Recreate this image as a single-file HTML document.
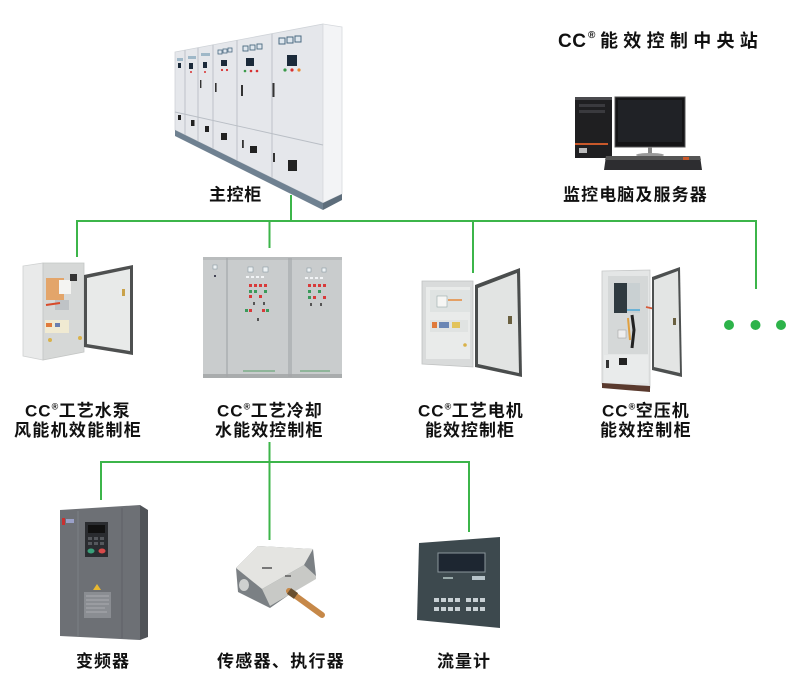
<!DOCTYPE html>
<html><head><meta charset="utf-8"><style>
html,body{margin:0;padding:0;background:#fff;}
svg{display:block;}
text{font-family:"Liberation Sans","Noto Sans CJK SC","WenQuanYi Zen Hei",sans-serif;font-weight:bold;fill:#111;}
</style></head><body>
<svg width="800" height="700" viewBox="0 0 800 700" xmlns="http://www.w3.org/2000/svg">
<rect width="800" height="700" fill="#fff"/>

<!-- ============ MAIN CABINET ============ -->
<g>
  <polygon points="175,52 323,24 323,203 175,130" fill="#e5e7eb" stroke="#cfd3d8" stroke-width="0.8"/>
  <polygon points="323,24 342,27 342,194 323,203" fill="#f3f4f6" stroke="#d6d9dd" stroke-width="0.8"/>
  <polygon points="175,130 323,203 323,210 175,136" fill="#6f8191"/>
  <polygon points="323,203 342,194 342,200 323,210" fill="#5d6d7b"/>
  <g stroke="#b9bec5" stroke-width="0.9">
    <line x1="185" y1="50.1" x2="185" y2="134.9"/>
    <line x1="198" y1="47.7" x2="198" y2="141.3"/>
    <line x1="213" y1="44.8" x2="213" y2="148.7"/>
    <line x1="237" y1="40.3" x2="237" y2="160.6"/>
    <line x1="272" y1="33.7" x2="272" y2="177.8"/>
    <line x1="175" y1="112" x2="323" y2="145"/>
  </g>
  <!-- panel 272-323 -->
  <rect x="279" y="38" width="6" height="6" fill="#dfe7ee" stroke="#4a6a80" stroke-width="1"/>
  <rect x="287" y="37" width="6" height="6" fill="#dfe7ee" stroke="#4a6a80" stroke-width="1"/>
  <rect x="295" y="36" width="6" height="6" fill="#dfe7ee" stroke="#4a6a80" stroke-width="1"/>
  <rect x="287" y="55" width="10" height="11" fill="#1b2a3a"/>
  <circle cx="285" cy="70" r="1.6" fill="#3a9a4a"/><circle cx="292" cy="70" r="1.6" fill="#d83030"/><circle cx="299" cy="70" r="1.6" fill="#e88a30"/>
  <rect x="272.5" y="83" width="2" height="14" fill="#333"/>
  <rect x="288" y="160" width="9" height="11" fill="#222"/>
  <rect x="273" y="153" width="2" height="9" fill="#333"/>
  <!-- panel 237-272 -->
  <rect x="243" y="46" width="5" height="5" fill="#dfe7ee" stroke="#4a6a80" stroke-width="0.9"/>
  <rect x="250" y="45" width="5" height="5" fill="#dfe7ee" stroke="#4a6a80" stroke-width="0.9"/>
  <rect x="257" y="44" width="5" height="5" fill="#dfe7ee" stroke="#4a6a80" stroke-width="0.9"/>
  <rect x="246" y="58" width="8" height="8" fill="#1b2a3a"/>
  <circle cx="245" cy="71" r="1.3" fill="#3a9a4a"/><circle cx="251" cy="71" r="1.3" fill="#d83030"/><circle cx="257" cy="71" r="1.3" fill="#d83030"/>
  <rect x="241" y="85" width="2" height="11" fill="#333"/>
  <rect x="250" y="146" width="7" height="7" fill="#222"/>
  <rect x="242" y="140" width="1.8" height="8" fill="#333"/>
  <!-- panel 213-237 -->
  <rect x="218" y="50" width="4" height="4" fill="#dfe7ee" stroke="#4a6a80" stroke-width="0.8"/>
  <rect x="223" y="49" width="4" height="4" fill="#dfe7ee" stroke="#4a6a80" stroke-width="0.8"/>
  <rect x="228" y="48" width="4" height="4" fill="#dfe7ee" stroke="#4a6a80" stroke-width="0.8"/>
  <rect x="221" y="60" width="6" height="6" fill="#1b2a3a"/>
  <circle cx="222" cy="70" r="1.1" fill="#d83030"/><circle cx="227" cy="70" r="1.1" fill="#d83030"/>
  <rect x="215" y="83" width="1.6" height="9" fill="#333"/>
  <rect x="221" y="133" width="6" height="7" fill="#222"/>
  <!-- panel 198-213 -->
  <rect x="201" y="53" width="9" height="3" fill="#9fb8c8"/>
  <rect x="203" y="62" width="4" height="6" fill="#1b2a3a"/>
  <circle cx="205" cy="72" r="1" fill="#d83030"/>
  <rect x="200" y="80" width="1.4" height="8" fill="#333"/>
  <rect x="205" y="126" width="4" height="6" fill="#222"/>
  <!-- panel 185-198 -->
  <rect x="188" y="56" width="8" height="3" fill="#9fb8c8"/>
  <rect x="189" y="63" width="4" height="6" fill="#1b2a3a"/>
  <circle cx="191" cy="72" r="1" fill="#d83030"/>
  <rect x="191" y="120" width="3.5" height="6" fill="#222"/>
  <!-- panel 175-185 -->
  <rect x="177" y="58" width="6" height="3" fill="#9fb8c8"/>
  <rect x="178" y="63" width="3" height="5" fill="#1b2a3a"/>
  <rect x="178" y="115" width="3" height="5" fill="#222"/>
</g>

<!-- ============ COMPUTER ============ -->
<g>
  <rect x="575" y="97" width="37" height="61" fill="#1f1f21"/>
  <rect x="575" y="97" width="37" height="3" fill="#4a4a4e"/>
  <rect x="579" y="104" width="26" height="3" fill="#3a3a3e"/>
  <rect x="579" y="110" width="26" height="3" fill="#3a3a3e"/>
  <rect x="575" y="143" width="33" height="2" fill="#c8582a"/>
  <rect x="579" y="148" width="8" height="5" fill="#bbb"/>
  <rect x="615" y="97" width="70" height="50" fill="#141416" stroke="#555" stroke-width="1"/>
  <rect x="618" y="100" width="64" height="42" fill="#202226"/>
  <rect x="648" y="147" width="4" height="7" fill="#888"/>
  <ellipse cx="650" cy="155" rx="14" ry="2" fill="#999"/>
  <polygon points="606,156 700,156 702,170 604,170" fill="#2d2d30"/>
  <polygon points="606,156 700,156 701,160 605,160" fill="#555"/>
  <rect x="683" y="157" width="6" height="3" fill="#c8582a"/>
</g>

<!-- ============ CONNECTORS ============ -->
<g stroke="#3cb54a" stroke-width="2" fill="none">
  <line x1="291" y1="195" x2="291" y2="221"/>
  <line x1="76" y1="221" x2="757" y2="221"/>
  <line x1="77" y1="220" x2="77" y2="257"/>
  <line x1="269.5" y1="221" x2="269.5" y2="248"/>
  <line x1="473" y1="221" x2="473" y2="273"/>
  <line x1="756" y1="220" x2="756" y2="289"/>
  <line x1="269.5" y1="442" x2="269.5" y2="540"/>
  <line x1="100" y1="462" x2="470" y2="462"/>
  <line x1="101" y1="461" x2="101" y2="500"/>
  <line x1="469" y1="461" x2="469" y2="532"/>
</g>
<circle cx="729" cy="325" r="5" fill="#2db34a"/>
<circle cx="755.5" cy="325" r="5" fill="#2db34a"/>
<circle cx="781" cy="325" r="5" fill="#2db34a"/>

<!-- ============ WATER PUMP CABINET ============ -->
<g>
  <polygon points="23,266 43,263 43,360 23,356" fill="#e9eaea" stroke="#cfd1d1" stroke-width="0.8"/>
  <polygon points="43,263 84,263 84,352 43,360" fill="#d6d8d7" stroke="#c4c6c5" stroke-width="0.8"/>
  <rect x="46" y="278" width="18" height="22" fill="#e3a56a"/>
  <rect x="59" y="280" width="12" height="14" fill="#f4f4f2"/>
  <rect x="70" y="274" width="7" height="7" fill="#333"/>
  <rect x="55" y="300" width="14" height="10" fill="#bfc3c6"/>
  <line x1="46" y1="305" x2="60" y2="303" stroke="#d84a2a" stroke-width="2"/>
  <rect x="45" y="320" width="24" height="13" fill="#f0ead2"/>
  <rect x="46" y="323" width="6" height="4" fill="#e07a3a"/>
  <rect x="55" y="323" width="5" height="4" fill="#6a7fb0"/>
  <circle cx="50" cy="340" r="2" fill="#d9b24a"/>
  <circle cx="80" cy="338" r="2" fill="#d9b24a"/>
  <polygon points="84,275 133,265 133,355 84,347" fill="#4e5050"/>
  <polygon points="87,278 130,269 130,351 87,344" fill="#e8eae9"/>
  <rect x="122" y="289" width="3" height="7" fill="#c9a24a"/>
</g>

<!-- ============ COOLING CABINET ============ -->
<g>
  <rect x="203" y="257" width="139" height="121" fill="#c9cccd"/>
  <rect x="203" y="257" width="139" height="3" fill="#b9bcbd"/>
  <rect x="203" y="374" width="139" height="4" fill="#a9acad"/>
  <g stroke="#a3a7a9" stroke-width="1.2">
    <line x1="227" y1="258" x2="227" y2="377"/>
    <line x1="289" y1="258" x2="289" y2="377"/>
    <line x1="291" y1="258" x2="291" y2="377"/>
  </g>
  <rect x="213" y="265" width="4" height="4" fill="#eef2f4" stroke="#8a9aa4" stroke-width="0.6"/>
  <rect x="214" y="275" width="2" height="2" fill="#445"/>
  <rect x="248" y="267" width="5" height="5" fill="#eef2f4" stroke="#8a9aa4" stroke-width="0.6"/>
  <rect x="263" y="267" width="5" height="5" fill="#eef2f4" stroke="#8a9aa4" stroke-width="0.6"/>
  <rect x="307" y="268" width="4" height="4" fill="#eef2f4" stroke="#8a9aa4" stroke-width="0.6"/>
  <rect x="322" y="268" width="4" height="4" fill="#eef2f4" stroke="#8a9aa4" stroke-width="0.6"/>
  <g fill="#f2f4f6"><rect x="246" y="276" width="3" height="2"/><rect x="251" y="276" width="3" height="2"/><rect x="256" y="276" width="3" height="2"/><rect x="261" y="276" width="3" height="2"/><rect x="305" y="277" width="3" height="2"/><rect x="310" y="277" width="3" height="2"/><rect x="315" y="277" width="3" height="2"/><rect x="320" y="277" width="3" height="2"/></g>
  <g fill="#d83a3a">
    <rect x="249" y="284" width="3" height="3"/><rect x="254" y="284" width="3" height="3"/><rect x="259" y="284" width="3" height="3"/><rect x="264" y="284" width="3" height="3"/>
    <rect x="249" y="295" width="3" height="3"/><rect x="259" y="295" width="3" height="3"/>
    <rect x="249" y="309" width="3" height="3"/><rect x="262" y="309" width="3" height="3"/>
    <rect x="308" y="284" width="3" height="3"/><rect x="313" y="284" width="3" height="3"/><rect x="318" y="284" width="3" height="3"/><rect x="323" y="284" width="3" height="3"/>
    <rect x="313" y="296" width="3" height="3"/><rect x="323" y="296" width="3" height="3"/>
  </g>
  <g fill="#3a9a5a">
    <rect x="249" y="290" width="3" height="3"/><rect x="254" y="290" width="3" height="3"/><rect x="264" y="290" width="3" height="3"/>
    <rect x="245" y="309" width="3" height="3"/><rect x="266" y="309" width="3" height="3"/>
    <rect x="308" y="290" width="3" height="3"/><rect x="318" y="290" width="3" height="3"/><rect x="308" y="296" width="3" height="3"/>
  </g>
  <g fill="#555"><rect x="253" y="302" width="2" height="3"/><rect x="263" y="302" width="2" height="3"/><rect x="257" y="318" width="2" height="3"/><rect x="310" y="303" width="2" height="3"/><rect x="320" y="303" width="2" height="3"/></g>
  <rect x="243" y="370" width="32" height="2" fill="#8fb59a"/>
  <rect x="300" y="370" width="30" height="2" fill="#8fb59a"/>
</g>

<!-- ============ MOTOR CABINET ============ -->
<g>
  <polygon points="422,281 473,281 473,367 422,364" fill="#d9dbdb" stroke="#bfc1c1" stroke-width="0.8"/>
  <rect x="426" y="287" width="44" height="72" fill="#e9ebea"/>
  <rect x="430" y="290" width="40" height="22" fill="#dfe3e2"/>
  <rect x="437" y="296" width="10" height="11" fill="#f6f6f4" stroke="#9aa" stroke-width="0.6"/>
  <line x1="448" y1="300" x2="462" y2="300" stroke="#e58a3a" stroke-width="1.5"/>
  <rect x="430" y="320" width="38" height="12" fill="#e0e3e2"/>
  <rect x="432" y="322" width="5" height="6" fill="#e07a3a"/>
  <rect x="439" y="322" width="10" height="6" fill="#6a86b4"/>
  <rect x="452" y="322" width="8" height="6" fill="#e2c35a"/>
  <circle cx="465" cy="345" r="1.8" fill="#d9b24a"/>
  <polygon points="475,285 520,268 522,377 475,367" fill="#4a4d4d"/>
  <polygon points="478,288 517,273 519,373 478,364" fill="#e2e4e3"/>
  <rect x="508" y="316" width="4" height="8" fill="#6a6040"/>
</g>

<!-- ============ AIR COMPRESSOR CABINET ============ -->
<g>
  <polygon points="602,271 650,270 650,388 602,384" fill="#e4e6e6" stroke="#c6c8c8" stroke-width="0.8"/>
  <rect x="608" y="276" width="40" height="78" fill="#d5d8d8"/>
  <rect x="614" y="283" width="13" height="30" fill="#2f3a40"/>
  <rect x="627" y="283" width="13" height="30" fill="#c9d0d2"/>
  <line x1="627" y1="310" x2="640" y2="310" stroke="#4aa8d8" stroke-width="1.5"/>
  <polyline points="632,315 634,330 632,348" stroke="#222" stroke-width="3" fill="none"/>
  <polyline points="628,318 630,340" stroke="#e0a040" stroke-width="2" fill="none"/>
  <rect x="618" y="330" width="8" height="8" fill="#eee" stroke="#999" stroke-width="0.5"/>
  <line x1="646" y1="307" x2="668" y2="312" stroke="#d65a3a" stroke-width="1.8"/>
  <rect x="604" y="355" width="44" height="28" fill="#e9ebeb"/>
  <rect x="606" y="360" width="3" height="8" fill="#333"/>
  <rect x="619" y="358" width="8" height="7" fill="#222"/>
  <polygon points="602,383 650,386 650,392 602,388" fill="#5a3a2e"/>
  <polygon points="652,277 680,267 682,377 652,370" fill="#4d5050"/>
  <polygon points="654,280 678,271 680,373 654,367" fill="#e3e5e4"/>
  <rect x="673" y="318" width="3" height="7" fill="#6a6040"/>
</g>

<!-- ============ INVERTER ============ -->
<g>
  <polygon points="60,510 140,505 140,640 60,636" fill="#6d7075"/>
  <polygon points="140,505 148,510 148,637 140,640" fill="#505358"/>
  <line x1="78" y1="511" x2="78" y2="636" stroke="#7c8085" stroke-width="1"/>
  <line x1="122" y1="508" x2="122" y2="638" stroke="#5e6166" stroke-width="1"/>
  <rect x="62" y="518" width="3" height="7" fill="#c83030"/>
  <rect x="66" y="519" width="8" height="4" fill="#9aa0c8"/>
  <rect x="85" y="522" width="23" height="35" fill="#2a2c30"/>
  <rect x="88" y="525" width="17" height="8" fill="#111"/>
  <g fill="#55585d"><rect x="88" y="537" width="4" height="3"/><rect x="94" y="537" width="4" height="3"/><rect x="100" y="537" width="4" height="3"/><rect x="88" y="542" width="4" height="3"/><rect x="94" y="542" width="4" height="3"/><rect x="100" y="542" width="4" height="3"/></g>
  <ellipse cx="91" cy="551" rx="3.5" ry="2.5" fill="#3aa07a"/>
  <ellipse cx="102" cy="551" rx="3.5" ry="2.5" fill="#d84a4a"/>
  <polygon points="97,584 93,590 101,590" fill="#e8b830"/>
  <rect x="84" y="592" width="27" height="26" fill="#8a8d92"/>
  <g stroke="#c8cacd" stroke-width="0.6"><line x1="86" y1="596" x2="109" y2="596"/><line x1="86" y1="600" x2="109" y2="600"/><line x1="86" y1="604" x2="109" y2="604"/><line x1="86" y1="608" x2="105" y2="608"/><line x1="86" y1="612" x2="107" y2="612"/></g>
</g>

<!-- ============ SENSOR ============ -->
<g>
  <polygon points="236,568 258,546 313,549 316,576 270,608 238,592" fill="#7b8084"/>
  <polygon points="236,568 258,546 313,549 304,565 262,589" fill="#e4e4e1"/>
  <polygon points="262,589 304,565 316,576 316,579 270,606" fill="#c8c9c6"/>
  <ellipse cx="244" cy="585" rx="5" ry="6" fill="#cfd1d0"/>
  <rect x="262" y="567" width="10" height="2" fill="#777"/>
  <rect x="285" y="575" width="6" height="2" fill="#777"/>
  <line x1="289" y1="591" x2="322" y2="615" stroke="#c68848" stroke-width="6" stroke-linecap="round"/>
  <line x1="289" y1="591" x2="296" y2="596" stroke="#6a5030" stroke-width="7"/>
</g>

<!-- ============ FLOW METER ============ -->
<g>
  <polygon points="419,543 500,537 500,628 417,620" fill="#3d494e"/>
  <rect x="438" y="553" width="47" height="19" fill="#1d2631" stroke="#8a969c" stroke-width="1"/>
  <rect x="443" y="577" width="10" height="2" fill="#9aa"/>
  <rect x="472" y="576" width="13" height="4" fill="#b8c4ca"/>
  <g fill="#c8d0d4">
    <rect x="434" y="598" width="5" height="4"/><rect x="441" y="598" width="5" height="4"/><rect x="448" y="598" width="5" height="4"/><rect x="455" y="598" width="5" height="4"/><rect x="466" y="598" width="5" height="4"/><rect x="473" y="598" width="5" height="4"/><rect x="480" y="598" width="5" height="4"/>
    <rect x="434" y="607" width="5" height="4"/><rect x="441" y="607" width="5" height="4"/><rect x="448" y="607" width="5" height="4"/><rect x="455" y="607" width="5" height="4"/><rect x="466" y="607" width="5" height="4"/><rect x="473" y="607" width="5" height="4"/><rect x="480" y="607" width="5" height="4"/>
  </g>
</g>

<!-- ============ LABELS ============ -->
<text x="558" y="47" font-size="19" letter-spacing="0.5">CC</text>
<text x="588" y="38" font-size="10">®</text>
<text x="600" y="47" font-size="18" letter-spacing="5.3">能效控制中央站</text>

<text x="209" y="200.5" font-size="17" letter-spacing="0.6">主控柜</text>
<text x="563" y="200.5" font-size="17" letter-spacing="1.1">监控电脑及服务器</text>

<text x="25" y="416.5" font-size="17" letter-spacing="1">CC<tspan font-size="9" dy="-7" letter-spacing="0.5">®</tspan><tspan dy="7">工艺水泵</tspan></text>
<text x="14" y="436" font-size="17" letter-spacing="1.3">风能机效能制柜</text>

<text x="217" y="416.5" font-size="17" letter-spacing="1">CC<tspan font-size="9" dy="-7" letter-spacing="0.5">®</tspan><tspan dy="7">工艺冷却</tspan></text>
<text x="215" y="436" font-size="17" letter-spacing="1.1">水能效控制柜</text>

<text x="418" y="416.5" font-size="17" letter-spacing="1">CC<tspan font-size="9" dy="-7" letter-spacing="0.5">®</tspan><tspan dy="7">工艺电机</tspan></text>
<text x="425" y="436" font-size="17" letter-spacing="1">能效控制柜</text>

<text x="602" y="416.5" font-size="17" letter-spacing="1">CC<tspan font-size="9" dy="-7" letter-spacing="0.5">®</tspan><tspan dy="7">空压机</tspan></text>
<text x="600" y="436" font-size="17" letter-spacing="1.4">能效控制柜</text>

<text x="76" y="667" font-size="17" letter-spacing="1">变频器</text>
<text x="217" y="667" font-size="17" letter-spacing="1.3">传感器、执行器</text>
<text x="437" y="667" font-size="17" letter-spacing="1">流量计</text>
</svg>
</body></html>
